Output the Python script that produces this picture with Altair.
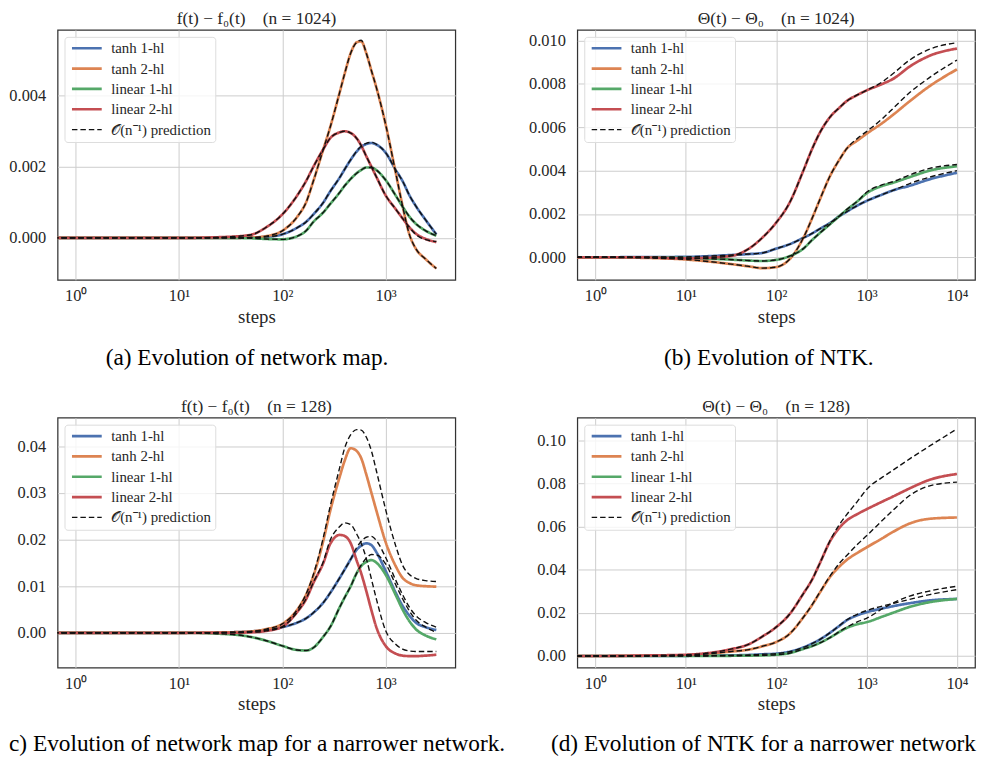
import altair as alt
import pandas as pd

SERIES = ["tanh 1-hl", "tanh 2-hl", "linear 1-hl", "linear 2-hl"]
PRED = "𝒪(n⁻¹) prediction"
LEGEND_DOMAIN = SERIES + [PRED]
LINE_COLORS = ["#4C72B0", "#DD8452", "#55A868", "#C44E52", "#111111"]
LINE_DASHES = [[1, 0], [1, 0], [1, 0], [1, 0], [5.5, 3]]
LINE_WIDTHS = [2.7, 2.7, 2.7, 2.7, 1.4]

FONT = "Liberation Serif"
TEXT = "#262626"

# ---------------- panel (a): f(t) - f0(t), n = 1024 ----------------
steps_a = [0.5, 1, 3, 10, 30, 50, 70, 100, 140, 170, 200, 250, 290, 360, 400, 460,
           525, 580, 650, 730, 820, 1000, 1260, 1460, 1700, 1960, 2450, 3100]
a_tanh1 = [0, 0, 0, 0, 0, 0.00001, 0.00003, 0.0001, 0.00029, 0.00045, 0.00066, 0.001, 0.0013, 0.0017,
           0.00192, 0.0022, 0.00243, 0.00256, 0.00264, 0.00267, 0.00262, 0.0024, 0.0019, 0.0016, 0.0012,
           0.0009, 0.0005, 0.0001]
a_tanh2 = [0, 0, 0, 0, 0, 0.00001, 0.00005, 0.0002, 0.0006, 0.001, 0.0016, 0.0025, 0.0031, 0.0041,
           0.0046, 0.0052, 0.0055, 0.00553, 0.0052, 0.0047, 0.0042, 0.0032, 0.0018, 0.0009, 0.0001,
           -0.0003, -0.0006, -0.00086]
a_lin1 = [0, 0, 0, 0, 0, -0.00001, -0.00003, -0.00004, 0.00005, 0.0002, 0.00045, 0.00072, 0.00095, 0.00128,
          0.00146, 0.00166, 0.00182, 0.00191, 0.00198, 0.00198, 0.0019, 0.00163, 0.00118, 0.00088, 0.0006,
          0.0004, 0.0002, 0.00006]
a_lin2 = [0, 0, 0, 0, 0.00003, 0.00009, 0.0003, 0.00066, 0.0012, 0.0016, 0.002, 0.0025, 0.0028, 0.00297,
          0.003, 0.00295, 0.0028, 0.0026, 0.0023, 0.002, 0.0017, 0.0012, 0.0008, 0.00055, 0.0003,
          0.00012, -0.00003, -0.00012]
a_tanh1_p = [0, 0, 0, 0, 0, 0.00001, 0.00003, 0.0001, 0.00029, 0.00045, 0.00066, 0.001, 0.0013, 0.0017,
             0.00192, 0.0022, 0.00244, 0.00258, 0.00266, 0.00269, 0.00263, 0.0024, 0.0019, 0.0016, 0.0012,
             0.0009, 0.0005, 0.0001]
a_tanh2_p = [0, 0, 0, 0, 0, 0.00001, 0.00005, 0.0002, 0.0006, 0.001, 0.0016, 0.0025, 0.0031, 0.0041,
             0.0046, 0.0052, 0.0055, 0.00556, 0.0052, 0.0047, 0.0042, 0.0032, 0.0018, 0.0009, 0.0001,
             -0.0003, -0.0006, -0.00086]
a_lin1_p = [0, 0, 0, 0, 0, -0.00001, -0.00003, -0.00004, 0.00005, 0.0002, 0.00045, 0.00072, 0.00095, 0.00128,
            0.00146, 0.00166, 0.00182, 0.00191, 0.00198, 0.00198, 0.0019, 0.00163, 0.00118, 0.00088, 0.0006,
            0.0004, 0.0002, 0.00006]
a_lin2_p = [0, 0, 0, 0, 0.00003, 0.00009, 0.0003, 0.00066, 0.0012, 0.0016, 0.002, 0.0025, 0.0028, 0.00297,
            0.003, 0.00295, 0.0028, 0.0026, 0.0023, 0.002, 0.0017, 0.0012, 0.0008, 0.00055, 0.0003,
            0.0001, -0.00005, -0.0001]

# ---------------- panel (b): Theta(t) - Theta0, n = 1024 ----------------
steps_b = [0.5, 1, 3, 10, 30, 50, 70, 100, 140, 200, 250, 300, 400, 500, 600, 800, 1000,
           1500, 2000, 3000, 5000, 10000]
b_tanh1 = [0, 0, 0.00001, 0.00002, 0.0001, 0.00015, 0.0002, 0.0004, 0.0006, 0.0009, 0.0011, 0.0013,
           0.0016, 0.0019, 0.0021, 0.0024, 0.0026, 0.0029, 0.0031, 0.0033, 0.0036, 0.0039]
b_tanh2 = [0, 0, -0.00002, -0.0001, -0.0003, -0.00042, -0.0005, -0.00045, -0.0001, 0.0009, 0.0018,
           0.0026, 0.0038, 0.0045, 0.005, 0.0054, 0.0057, 0.0062, 0.0066, 0.0072, 0.0079, 0.00867]
b_lin1 = [0, 0, 0, -0.00003, -0.0001, -0.00015, -0.00017, -0.00012, 0.00005, 0.0004, 0.0008, 0.0011,
          0.00155, 0.0019, 0.00218, 0.0026, 0.00295, 0.0033, 0.00345, 0.0037, 0.004, 0.0042]
b_lin2 = [0, 0, 0, -0.00005, 0.00005, 0.0004, 0.0009, 0.0016, 0.0025, 0.004, 0.005, 0.0057, 0.0065,
          0.0069, 0.0072, 0.0075, 0.0077, 0.008, 0.00825, 0.0088, 0.0093, 0.00963]
b_tanh1_p = [0, 0, 0.00001, 0.00002, 0.0001, 0.00015, 0.0002, 0.0004, 0.0006, 0.0009, 0.0011, 0.0013,
             0.0016, 0.0019, 0.0021, 0.0024, 0.0026, 0.0029, 0.0031, 0.0034, 0.0037, 0.004]
b_tanh2_p = [0, 0, -0.00002, -0.0001, -0.0003, -0.00042, -0.0005, -0.00045, -0.0001, 0.0009, 0.0018,
             0.0026, 0.0038, 0.0045, 0.005, 0.0055, 0.0058, 0.0064, 0.0069, 0.0076, 0.0083, 0.0091]
b_lin1_p = [0, 0, 0, -0.00003, -0.0001, -0.00015, -0.00017, -0.00012, 0.00005, 0.0004, 0.0008, 0.0011,
            0.00155, 0.0019, 0.0022, 0.0026, 0.003, 0.00335, 0.0035, 0.0038, 0.0041, 0.00428]
b_lin2_p = [0, 0, 0, -0.00005, 0.00005, 0.0004, 0.0009, 0.0016, 0.0025, 0.004, 0.005, 0.0057, 0.0065,
            0.0069, 0.0072, 0.0075, 0.0077, 0.0081, 0.0085, 0.0091, 0.0096, 0.0099]

# ---------------- panel (c): f(t) - f0(t), n = 128 ----------------
steps_c = steps_a
c_tanh1 = [0, 0, 0, 0, 0.0001, 0.0003, 0.0006, 0.0012, 0.0022, 0.0031, 0.0043, 0.0065, 0.0085, 0.0118,
           0.0135, 0.0158, 0.0178, 0.0187, 0.0192, 0.0188, 0.0172, 0.0133, 0.0085, 0.0058, 0.0037,
           0.0022, 0.0012, 0.0006]
c_tanh2 = [0, 0, 0, 0, 0.0001, 0.0003, 0.0008, 0.0019, 0.005, 0.0082, 0.0122, 0.0198, 0.026, 0.0335,
           0.0368, 0.0396, 0.039, 0.0375, 0.034, 0.03, 0.026, 0.0195, 0.0142, 0.0118, 0.0107, 0.0102,
           0.01, 0.0099]
c_lin1 = [0, 0, 0, 0, -0.0003, -0.0009, -0.0017, -0.0028, -0.0037, -0.0038, -0.0032, -0.0008, 0.0012,
          0.0055, 0.0075, 0.01, 0.0128, 0.0143, 0.0152, 0.0156, 0.015, 0.0125, 0.008, 0.005, 0.0025,
          0.0008, -0.0006, -0.0014]
c_lin2 = [0, 0, 0, 0, 0, 0.0001, 0.0004, 0.0013, 0.0045, 0.0072, 0.0107, 0.015, 0.019, 0.021, 0.0208,
          0.0192, 0.0155, 0.0128, 0.009, 0.0048, 0.001, -0.0028, -0.0045, -0.0049, -0.005, -0.005,
          -0.0049, -0.0047]
c_tanh1_p = [0, 0, 0, 0, 0.0001, 0.0003, 0.0006, 0.0012, 0.0022, 0.0031, 0.0043, 0.0065, 0.0085, 0.0118,
             0.0135, 0.0158, 0.0183, 0.0196, 0.0205, 0.0207, 0.0197, 0.0162, 0.0112, 0.0082, 0.0055,
             0.0037, 0.0022, 0.0012]
c_tanh2_p = [0, 0, 0, 0, 0.0001, 0.0003, 0.0008, 0.0019, 0.005, 0.0083, 0.0125, 0.0205, 0.027, 0.0355,
             0.0395, 0.0425, 0.0436, 0.0435, 0.042, 0.039, 0.0345, 0.0265, 0.0185, 0.0145, 0.0125,
             0.0117, 0.0112, 0.011]
c_lin1_p = [0, 0, 0, 0, -0.0003, -0.0009, -0.0017, -0.0028, -0.0037, -0.0038, -0.0032, -0.0008, 0.0012,
            0.0055, 0.0075, 0.01, 0.0128, 0.0145, 0.016, 0.0168, 0.0167, 0.0148, 0.0102, 0.0073, 0.0047,
            0.0028, 0.0012, 0.0001]
c_lin2_p = [0, 0, 0, 0, 0, 0.0001, 0.0004, 0.0013, 0.0045, 0.0073, 0.0108, 0.0153, 0.0198, 0.0228,
            0.0236, 0.0232, 0.0212, 0.0192, 0.016, 0.0115, 0.007, 0.0005, -0.0025, -0.0035, -0.0039,
            -0.004, -0.004, -0.004]

# ---------------- panel (d): Theta(t) - Theta0, n = 128 ----------------
steps_d = steps_b
d_tanh1 = [0, 0, 0, 0.0001, 0.0003, 0.0005, 0.0008, 0.0011, 0.002, 0.004, 0.0058, 0.0075, 0.011, 0.014,
           0.0165, 0.019, 0.0203, 0.0221, 0.0232, 0.0245, 0.0258, 0.0265]
d_tanh2 = [0, 0, 0.0001, 0.0003, 0.002, 0.003, 0.0045, 0.0065, 0.0102, 0.018, 0.0237, 0.029, 0.037,
           0.0415, 0.0445, 0.048, 0.0504, 0.0547, 0.0578, 0.0615, 0.0637, 0.0643]
d_lin1 = [0, 0, 0, 0, 0.0001, 0.0002, 0.0003, 0.0006, 0.0013, 0.0033, 0.0046, 0.006, 0.0087, 0.0112,
          0.013, 0.0148, 0.0157, 0.0183, 0.0202, 0.0228, 0.025, 0.0265]
d_lin2 = [0, 0, 0.0002, 0.0006, 0.003, 0.0055, 0.009, 0.0134, 0.0193, 0.029, 0.0355, 0.0425, 0.0537,
          0.0595, 0.0628, 0.066, 0.0681, 0.0717, 0.0742, 0.0778, 0.0818, 0.0845]
d_tanh1_p = [0, 0, 0, 0.0001, 0.0003, 0.0005, 0.0008, 0.0011, 0.002, 0.004, 0.0058, 0.0075, 0.011,
             0.0141, 0.0167, 0.0195, 0.0211, 0.0232, 0.0245, 0.0263, 0.0285, 0.0308]
d_tanh2_p = [0, 0, 0.0001, 0.0003, 0.002, 0.003, 0.0045, 0.0065, 0.0102, 0.018, 0.0238, 0.0292, 0.0375,
             0.043, 0.0465, 0.052, 0.0558, 0.063, 0.068, 0.0745, 0.079, 0.0807]
d_lin1_p = [0, 0, 0, 0, 0.0001, 0.0002, 0.0003, 0.0006, 0.0013, 0.0033, 0.0046, 0.006, 0.0087, 0.0113,
            0.0133, 0.016, 0.0175, 0.022, 0.0248, 0.0278, 0.0302, 0.0324]
d_lin2_p = [0, 0, 0.0002, 0.0006, 0.003, 0.0055, 0.009, 0.0134, 0.0193, 0.029, 0.0355, 0.0425, 0.054,
            0.061, 0.0655, 0.072, 0.0773, 0.083, 0.0865, 0.0915, 0.0975, 0.1054]

SUP = ["⁰", "¹", "²", "³", "⁴"]
LABEL_EXPR = "'10' + " + str(SUP) + "[round(log(datum.value) / LN10)]"

PANEL_W = 401
PANEL_H = 252


def long_frame(steps, series_lists, legend_names, line_suffix):
    rows = []
    for name, legend_name, vals in zip(SERIES, legend_names, series_lists):
        for s, v in zip(steps, vals):
            rows.append({"steps": s, "value": v, "legend": legend_name, "line": name + line_suffix})
    return pd.DataFrame(rows)


def text_layer(txt, size, color, x, y, align):
    return alt.Chart(pd.DataFrame({"txt": [txt]})).mark_text(
        font=FONT, fontSize=size, align=align, baseline="alphabetic", color=color
    ).encode(x=alt.value(x), y=alt.value(y), text="txt:N")


def panel(steps, solids, preds, title, xdom, xticks, ydom, yticks, yfmt,
          caption, cap_x, cap_y, cap_align):
    df_solid = long_frame(steps, solids, SERIES, "")
    df_pred = long_frame(steps, preds, [PRED] * 4, " pred")

    x = alt.X("steps:Q",
              scale=alt.Scale(type="log", domain=xdom, nice=False),
              axis=alt.Axis(values=xticks, labelExpr=LABEL_EXPR, title="steps", grid=True,
                            ticks=False, domain=False, labelPadding=8, titlePadding=3,
                            labelFlush=False, labelOverlap=False))
    y = alt.Y("value:Q",
              scale=alt.Scale(domain=ydom, nice=False, zero=False),
              axis=alt.Axis(values=yticks, format=yfmt, title=None, grid=True, ticks=False,
                            domain=False, labelPadding=12, labelFlush=False, labelOverlap=False))
    color = alt.Color("legend:N", scale=alt.Scale(domain=LEGEND_DOMAIN, range=LINE_COLORS),
                      legend=alt.Legend(title=None))
    dash = alt.StrokeDash("legend:N", scale=alt.Scale(domain=LEGEND_DOMAIN, range=LINE_DASHES),
                          legend=alt.Legend(title=None))
    width = alt.StrokeWidth("legend:N",
                            scale=alt.Scale(type="ordinal", domain=LEGEND_DOMAIN, range=LINE_WIDTHS),
                            legend=alt.Legend(title=None))

    solid = alt.Chart(df_solid).mark_line(clip=True, interpolate="monotone").encode(
        x=x, y=y, color=color, strokeDash=dash, strokeWidth=width, detail="line:N")
    pred = alt.Chart(df_pred).mark_line(clip=True, interpolate="monotone").encode(
        x=x, y=y, color=color, strokeDash=dash, strokeWidth=width, detail="line:N")
    head = text_layer(title, 17.5, TEXT, PANEL_W / 2, -6, "center")
    cap = text_layer(caption, 23.5, "black", cap_x, cap_y, cap_align)

    return alt.layer(solid, pred, head, cap).properties(width=PANEL_W, height=PANEL_H)


XDOM_AC = [10 ** -0.175, 10 ** 3.675]
XDOM_BD = [10 ** -0.2, 10 ** 4.2]
GAP = "\u2002\u2002"

pa = panel(steps_a, [a_tanh1, a_tanh2, a_lin1, a_lin2], [a_tanh1_p, a_tanh2_p, a_lin1_p, a_lin2_p],
           "f(t) − f₀(t)" + GAP + "(n = 1024)", XDOM_AC, [1, 10, 100, 1000],
           [-0.00118, 0.00585], [0.0, 0.002, 0.004], ".3f",
           "(a) Evolution of network map.", 191, 338, "center")
pb = panel(steps_b, [b_tanh1, b_tanh2, b_lin1, b_lin2], [b_tanh1_p, b_tanh2_p, b_lin1_p, b_lin2_p],
           "Θ(t) − Θ₀" + GAP + "(n = 1024)", XDOM_BD, [1, 10, 100, 1000, 10000],
           [-0.00104, 0.01049], [0.0, 0.002, 0.004, 0.006, 0.008, 0.010], ".3f",
           "(b) Evolution of NTK.", 193, 338, "center")
pc = panel(steps_c, [c_tanh1, c_tanh2, c_lin1, c_lin2], [c_tanh1_p, c_tanh2_p, c_lin1_p, c_lin2_p],
           "f(t) − f₀(t)" + GAP + "(n = 128)", XDOM_AC, [1, 10, 100, 1000],
           [-0.00748, 0.04615], [0.0, 0.01, 0.02, 0.03, 0.04], ".2f",
           "c) Evolution of network map for a narrower network.", -49, 336, "left")
pd_ = panel(steps_d, [d_tanh1, d_tanh2, d_lin1, d_lin2], [d_tanh1_p, d_tanh2_p, d_lin1_p, d_lin2_p],
            "Θ(t) − Θ₀" + GAP + "(n = 128)", XDOM_BD, [1, 10, 100, 1000, 10000],
            [-0.0054, 0.1106], [0.0, 0.02, 0.04, 0.06, 0.08, 0.10], ".2f",
            "(d) Evolution of NTK for a narrower network", 402, 336, "right")

IND = dict(x="independent", y="independent", color="independent",
           strokeDash="independent", strokeWidth="independent")
LIND = dict(color="independent", strokeDash="independent", strokeWidth="independent")

row1 = alt.hconcat(pa, pb, spacing=123, bounds="flush").resolve_scale(**IND).resolve_legend(**LIND)
row2 = alt.hconcat(pc, pd_, spacing=123, bounds="flush").resolve_scale(**IND).resolve_legend(**LIND)

chart = alt.vconcat(row1, row2, spacing=391, bounds="flush").resolve_scale(**IND).resolve_legend(**LIND)

chart = chart.configure_view(
    stroke="#333333", strokeWidth=1.25
).configure_axis(
    labelFont=FONT, labelFontSize=16.5, labelColor=TEXT,
    titleFont=FONT, titleFontSize=19, titleFontWeight="normal", titleColor=TEXT,
    gridColor="#cccccc", gridWidth=1,
).configure_legend(
    orient="top-left", offset=7, padding=4, rowPadding=4.5,
    symbolType="M-3.0,0H3.0", symbolSize=100, symbolOffset=11, labelOffset=17,
    labelFont=FONT, labelFontSize=15, labelColor=TEXT,
    fillColor="rgba(255,255,255,0.8)", strokeColor="#dddddd", cornerRadius=3,
).properties(padding={"left": 0, "top": -2, "right": 0, "bottom": 0}, background="white")

chart.save("out.html", embed_options={"renderer": "svg", "actions": False})
